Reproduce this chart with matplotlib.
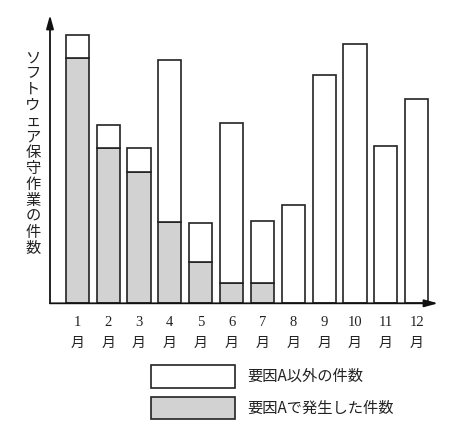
import matplotlib
matplotlib.use("Agg")
import matplotlib.pyplot as plt
import matplotlib.patches as mpatches
import matplotlib.transforms as mtransforms
import numpy as np

months = ["1", "2", "3", "4", "5", "6", "7", "8", "9", "10", "11", "12"]
month_suffix = "月"
factor_a = [24.5, 15.5, 13.1, 8.1, 4.1, 2.0, 2.0, 0, 0, 0, 0, 0]
other = [2.3, 2.3, 2.4, 16.2, 3.9, 16.0, 6.2, 9.8, 22.8, 25.9, 15.7, 20.4]
ylabel = "ソフトウェア保守作業の件数"
legend_other = "要因A以外の件数"
legend_a = "要因Aで発生した件数"

W, H = 467, 440
fig = plt.figure(figsize=(W / 100, H / 100), dpi=100)
fig.patch.set_facecolor("white")

# axes placement in pixel coordinates
x0, x1 = 50, 438
y_base, y_top = 303.3, 15
ax = fig.add_axes([x0 / W, 1 - y_base / H, (x1 - x0) / W, (y_base - y_top) / H])

gray = "#d2d2d2"
edge = "#222222"
x = np.arange(len(months))
width = 0.75
ax.bar(x, factor_a, width=width, color=gray, edgecolor=edge, linewidth=1.2, zorder=2)
ax.bar(x, other, width=width, bottom=factor_a, color="white", edgecolor=edge, linewidth=1.2, zorder=2)

ax.set_xlim(-0.885, 11.69)
ax.set_ylim(0, 28.83)
for s in ax.spines.values():
    s.set_visible(False)
ax.set_xticks([])
ax.set_yticks([])
ax.patch.set_alpha(0)

arrow_kw = dict(arrowstyle="-|>,head_length=0.8,head_width=0.22", color="#111111", lw=1.3,
                shrinkA=0, shrinkB=0)
ax.annotate("", xy=(0, 1), xytext=(0, 0), xycoords="axes fraction", arrowprops=arrow_kw,
            annotation_clip=False)
ax.annotate("", xy=(1, 0), xytext=(0, 0), xycoords="axes fraction", arrowprops=arrow_kw,
            annotation_clip=False)

# month labels
trans = mtransforms.blended_transform_factory(ax.transData, fig.transFigure)
for xi, m in zip(x, months):
    ax.text(xi, 1 - 322 / H, m, transform=trans, ha="center", va="center",
            fontsize=10.5, family=["Liberation Serif", "Noto Sans CJK JP"], color="#222222")
    ax.text(xi, 1 - 343 / H, month_suffix, transform=trans, ha="center", va="center",
            fontsize=10, family=["Noto Sans CJK JP"], color="#222222")

# vertical y label, one character per line
n = len(ylabel)
ys = np.linspace(58, 248, n)
for ch, yy in zip(ylabel, ys):
    fig.text(33 / W, 1 - yy / H, ch, ha="center", va="center", fontsize=11,
             family=["Noto Sans CJK JP"], color="#222222")

# legend
for (ytop, ybot, fc, label) in [(365, 387.7, "white", legend_other), (396.7, 419.3, gray, legend_a)]:
    rect = mpatches.Rectangle((151 / W, 1 - ybot / H), (235 - 151) / W, (ybot - ytop) / H,
                              transform=fig.transFigure, facecolor=fc, edgecolor=edge, linewidth=1.2)
    fig.patches.append(rect)
    fig.text(247 / W, 1 - (ytop + ybot) / 2 / H, label, ha="left", va="center", fontsize=11,
             family=["Noto Sans CJK JP"], color="#222222")

fig.savefig("out.png", dpi=100, facecolor="white")
